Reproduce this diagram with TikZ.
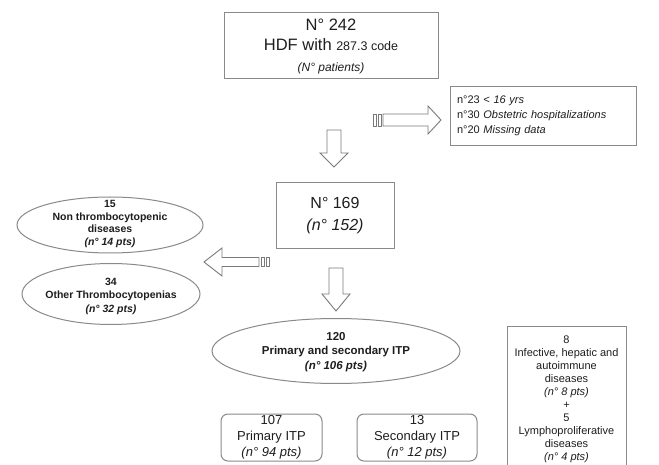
\documentclass[tikz,border=0pt]{standalone}
\usepackage{fontspec}
\setmainfont{Liberation Sans}
\usetikzlibrary{shapes.geometric}
\definecolor{bord}{HTML}{8A8A8A}
\definecolor{arr}{HTML}{7A7A7A}
\definecolor{txt}{HTML}{1E1E1E}
\begin{document}
\begin{tikzpicture}[x=1pt,y=-1pt,
  box/.style={draw=bord, line width=1pt, inner sep=0pt, text=txt, align=center},
  rbox/.style={box, rounded corners=7pt},
  oval/.style={ellipse, draw=bord, line width=1pt, inner sep=0pt},
  ovaltext/.style={text=txt, align=center, inner sep=0pt},
  blockarrow/.style={draw=arr, fill=white, line width=0.9pt, line join=miter}]
\clip (0,0) rectangle (659,465);
\fill[white] (0,0) rectangle (659,465);

% top box
\node[box, minimum width=214, minimum height=66, font=\fontsize{16.5}{20.5}\selectfont] (top) at (331,46)
  {N° 242\\ HDF with {\fontsize{12.5}{20.5}\selectfont 287.3 code}\\ {\fontsize{12}{20.5}\selectfont\itshape (N° patients)}};

% exclusions box
\node[box, align=left, text width=172, inner xsep=7pt, minimum height=59, font=\fontsize{11}{15}\selectfont] (excl) at (543,116)
  {n°23 \textit{< 16 yrs}\\ n°30 \textit{Obstetric hospitalizations}\\ n°20 \textit{Missing data}};

% box 169
\node[box, minimum width=118, minimum height=66, font=\fontsize{16}{22}\selectfont] (n169) at (335,216)
  {N° 169\\ \textit{(n° 152)}};

% small ellipses
\node[oval, minimum width=186, minimum height=56] (e1) at (110,225) {};
\node[ovaltext, font=\bfseries\fontsize{10.5}{12.8}\selectfont] (e1t) at (110,224)
  {15\\ Non thrombocytopenic\\ diseases\\ \textit{(n° 14 pts)}};
\node[oval, minimum width=178, minimum height=61] (e2) at (111,294) {};
\node[ovaltext, font=\bfseries\fontsize{10.5}{13.5}\selectfont] (e2t) at (111,296)
  {34\\ Other Thrombocytopenias\\ \textit{(n° 32 pts)}};

% big ellipse
\node[oval, minimum width=248, minimum height=65] (itp) at (336,351) {};
\node[ovaltext, font=\bfseries\fontsize{11.5}{14.5}\selectfont] (itpt) at (336,352)
  {120\\ Primary and secondary ITP\\ \textit{(n° 106 pts)}};

% rounded boxes
\node[rbox, minimum width=101, minimum height=47, font=\fontsize{13}{16}\selectfont] (prim) at (271.5,437.5)
  {107\\ Primary ITP\\ \textit{(n° 94 pts)}};
\node[rbox, minimum width=120, minimum height=47, font=\fontsize{13}{16}\selectfont] (sec) at (417,437.5)
  {13\\ Secondary ITP\\ \textit{(n° 12 pts)}};

% right box (cut by the lower edge)
\node[box, minimum width=119, minimum height=146, font=\fontsize{11}{13}\selectfont] (cause) at (566.5,399)
  {8\\ Infective, hepatic and\\ autoimmune\\ diseases\\ \textit{(n° 8 pts)}\\ +\\ 5\\ Lymphoproliferative\\ diseases\\ \textit{(n° 4 pts)}};

% striped right arrow (top -> exclusions)
\draw[blockarrow] (383,114) -- (428,114) -- (428,106) -- (441,120) -- (428,134) -- (428,126) -- (383,126) -- cycle;
\draw[blockarrow] (373,114) rectangle (376,126);
\draw[blockarrow] (378,114) rectangle (381,126);

% down arrow top -> 169
\draw[blockarrow] (327,130) -- (341,130) -- (341,153) -- (348,153) -- (334,167) -- (320,153) -- (327,153) -- cycle;

% striped left arrow (169 -> ellipses)
\draw[blockarrow] (259,257.5) -- (222,257.5) -- (222,248) -- (204,262) -- (222,276) -- (222,266.5) -- (259,266.5) -- cycle;
\draw[blockarrow] (261,257.5) rectangle (264,266.5);
\draw[blockarrow] (266,257.5) rectangle (269,266.5);

% down arrow 169 -> ITP
\draw[blockarrow] (329,268) -- (343,268) -- (343,294) -- (350,294) -- (336,311) -- (322,294) -- (329,294) -- cycle;
\end{tikzpicture}
\end{document}
